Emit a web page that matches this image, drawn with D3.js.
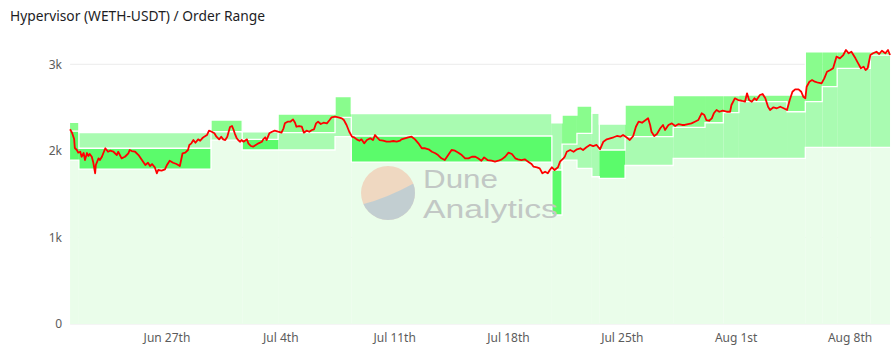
<!DOCTYPE html>
<html><head><meta charset="utf-8">
<script src="https://cdn.jsdelivr.net/npm/d3@7"></script>
<style>body{margin:0;background:#fff}svg{display:block}</style>
</head><body><svg id="c" width="893" height="358"></svg>
<script>
// ---------- DATA ----------
const chartTitle = "Hypervisor (WETH-USDT) / Order Range";
const startDate = "2021-06-21T00:00:00Z"; // hour 0
const yTicks = [0, 1000, 2000, 3000];
const yTickLabels = ["0", "1k", "2k", "3k"];
const xTickDates = ["2021-06-27", "2021-07-04", "2021-07-11", "2021-07-18", "2021-07-25", "2021-08-01", "2021-08-08"];
const xTickLabels = ["Jun 27th", "Jul 4th", "Jul 11th", "Jul 18th", "Jul 25th", "Aug 1st", "Aug 8th"];

// order range segments (hours since start)
const bandStartHours = [1, 14, 209, 255, 308, 392, 416, 712, 727, 749, 771, 782, 820, 891, 938, 965, 988, 1059, 1086, 1111, 1133, 1182];
const bandEndHour = 1211;
const rangeFloor = [1894, 1790, 2125, 2010, 2010, 2164, 1871, 1259, 1894, 1798, 1701, 1683, 1831, 1914, 1914, 1914, 1914, 1914, 2041, 2041, 2041, 2041];
const rangeMid   = [2229, 2030, 2221, 2133, 2210, 2388, 2172, 1779, 2079, 2203, 2437, 2010, 2164, 2272, 2325, 2441, 2568, 2452, 2568, 2741, 2954, 3107];
const rangeTop   = [2330, 2210, 2356, 2221, 2426, 2626, 2430, 2325, 2414, 2518, 2437, 2310, 2530, 2637, 2637, 2637, 2645, 2645, 3145, 3145, 3145, 3145];
const lowerShade = ["bright","bright","light","bright","light","light","bright","bright","light","light","light","bright","light","light","light","light","light","light","light","light","light","light"];
const upperShade = ["mid","light","mid","light","mid","mid","light","light","mid","mid","light","light","mid","mid","mid","mid","mid","mid","mid","mid","mid","mid"];

// WETH price (hours since start, USDT)
const priceHours = [1,4,7,8,11,13,16,18,21,23,26,28,30,33,35,38,39,43,45,48,50,53,55,57,60,65,70,72,77,82,87,89,92,97,102,107,112,116,119,122,126,129,131,136,141,144,148,153,158,163,167,171,175,177,180,183,186,190,193,196,199,203,206,210,214,217,221,224,227,230,233,237,240,242,244,247,249,252,254,257,262,264,268,271,275,279,284,286,289,291,295,299,303,308,313,316,318,322,326,330,333,335,339,343,346,350,354,358,361,364,367,371,375,380,384,387,392,397,402,405,409,413,417,420,424,428,431,435,439,444,448,451,454,458,463,468,473,478,483,488,490,495,500,505,510,515,520,525,530,535,540,544,549,554,559,564,569,574,579,584,589,594,599,603,608,612,617,623,628,633,638,643,648,653,658,662,667,672,677,682,685,690,694,698,702,706,709,712,716,721,724,729,731,734,739,744,749,754,758,763,768,773,778,783,788,793,798,803,808,813,817,822,827,832,836,840,845,849,854,857,859,863,867,872,876,879,884,889,894,899,904,908,913,918,923,928,933,937,940,944,948,951,955,959,964,970,975,977,982,987,992,997,1000,1003,1007,1011,1014,1019,1023,1027,1031,1034,1039,1044,1049,1054,1059,1063,1067,1071,1076,1080,1083,1086,1088,1092,1096,1100,1105,1110,1114,1118,1123,1127,1132,1137,1142,1146,1150,1154,1157,1160,1164,1168,1172,1175,1178,1182,1186,1191,1195,1199,1204,1208,1211];
const priceValues = [2250,2206,2137,2033,2010,1979,1990,1932,1975,1894,1975,1941,1964,1932,1875,1741,1837,1914,1894,1932,1972,2030,2010,1990,2002,1990,1952,1990,1914,1932,1972,2010,1998,1990,1952,1894,1837,1863,1825,1848,1810,1741,1779,1771,1787,1837,1886,1863,1848,1825,1972,1979,2010,2068,2087,2125,2094,2133,2117,2145,2164,2183,2233,2221,2203,2164,2133,2164,2133,2125,2164,2276,2287,2249,2203,2145,2125,2106,2125,2106,2133,2087,2056,2048,2068,2087,2106,2133,2157,2125,2203,2221,2233,2221,2210,2261,2318,2337,2337,2364,2325,2279,2287,2279,2210,2233,2221,2241,2249,2318,2337,2310,2325,2318,2356,2388,2395,2388,2376,2356,2299,2221,2164,2157,2133,2117,2133,2087,2125,2145,2125,2183,2157,2125,2117,2106,2106,2114,2106,2117,2133,2145,2157,2164,2133,2087,2030,2030,2018,1990,1972,1952,1914,1894,1952,2010,2002,1979,1952,1914,1914,1932,1932,1914,1886,1925,1894,1886,1875,1886,1902,1932,1979,1964,1914,1902,1894,1902,1875,1848,1817,1810,1798,1741,1759,1741,1779,1810,1779,1810,1875,1914,1932,1990,2010,1990,2018,2030,2010,2041,2068,2056,2068,2018,2106,2133,2145,2157,2172,2164,2183,2157,2125,2172,2279,2337,2325,2348,2376,2299,2221,2172,2195,2261,2299,2241,2299,2318,2287,2310,2299,2299,2310,2318,2337,2356,2434,2414,2356,2348,2376,2434,2472,2452,2464,2452,2452,2530,2607,2587,2579,2568,2665,2587,2568,2607,2587,2645,2657,2607,2510,2472,2503,2492,2510,2492,2472,2587,2683,2711,2711,2683,2626,2607,2741,2799,2818,2799,2787,2780,2838,2914,2934,2954,3088,3069,3107,3165,3127,3145,3107,3069,3011,2954,2972,2934,2954,3107,3127,3145,3119,3157,3127,3165,3107];

// ---------- STYLE ----------
const shadeColor = {floor: "#eafdea", light: "#a9fbb1", mid: "#89fc8d", bright: "#5bfb6b"};

// ---------- CHART ----------
const svg = d3.select("#c");
const t0 = new Date(startDate).getTime();
const HOUR = 3600e3;
const toDate = h => new Date(t0 + h * HOUR);
const x = d3.scaleUtc().domain([toDate(0), toDate(1212)]).range([69.4, 890.7]);
const y = d3.scaleLinear().domain([0, 3000]).range([324, 64.3]);
const xh = h => x(toDate(h));

// title
svg.append("text").attr("x", 10).attr("y", 21)
  .attr("font-family", "'Noto Sans', 'Open Sans', sans-serif").attr("font-size", 15)
  .attr("fill", "#1d1d1f").attr("textLength", 255).attr("lengthAdjust", "spacingAndGlyphs")
  .text(chartTitle);

// gridlines
svg.append("g").selectAll("line").data(yTicks).join("line")
  .attr("x1", xh(1)).attr("x2", xh(bandEndHour))
  .attr("y1", d => y(d)).attr("y2", d => y(d))
  .attr("stroke", "#ebebeb").attr("stroke-width", 1);

// y labels
svg.append("g").selectAll("text").data(yTicks).join("text")
  .attr("x", 62).attr("y", d => y(d)).attr("dy", "0.35em")
  .attr("text-anchor", "end").attr("font-family", "'Noto Sans', sans-serif")
  .attr("font-size", 12).attr("fill", "#5c5c5c")
  .text((d, i) => yTickLabels[i]);

// x labels
svg.append("g").selectAll("text").data(xTickDates).join("text")
  .attr("x", d => x(new Date(d + "T00:00:00Z"))).attr("y", 342)
  .attr("text-anchor", "middle").attr("font-family", "'Noto Sans', sans-serif")
  .attr("font-size", 12).attr("fill", "#5c5c5c")
  .text((d, i) => xTickLabels[i]);

// range segments
const segs = bandStartHours.map((h, i) => ({
  h0: h, h1: i < bandStartHours.length - 1 ? bandStartHours[i + 1] : bandEndHour,
  floor: rangeFloor[i], mid: rangeMid[i], top: rangeTop[i],
  lo: lowerShade[i], up: upperShade[i]
}));
const gBands = svg.append("g");
segs.forEach(s => {
  const x0 = xh(s.h0), w = xh(s.h1) - xh(s.h0);
  gBands.append("rect").attr("x", x0).attr("width", w)
    .attr("y", y(s.floor)).attr("height", y(0) - y(s.floor)).attr("fill", shadeColor.floor);
  gBands.append("rect").attr("x", x0).attr("width", w)
    .attr("y", y(s.mid)).attr("height", y(s.floor) - y(s.mid)).attr("fill", shadeColor[s.lo]);
  if (s.top > s.mid)
    gBands.append("rect").attr("x", x0).attr("width", w)
      .attr("y", y(s.top)).attr("height", y(s.mid) - y(s.top)).attr("fill", shadeColor[s.up]);
});
// white edge lines (step)
const stepHours = bandStartHours.concat([bandEndHour]);
[rangeFloor, rangeMid, rangeTop].forEach(arr => {
  const pts = stepHours.map((h, i) => [h, arr[Math.min(i, arr.length - 1)]]);
  gBands.append("path").datum(pts)
    .attr("d", d3.line().x(d => xh(d[0])).y(d => y(d[1])).curve(d3.curveStepAfter))
    .attr("fill", "none").attr("stroke", "#ffffff").attr("stroke-width", 1.3);
});

// watermark
const wm = svg.append("g");
const cx = 388, cy = 193, r = 27;
wm.append("clipPath").attr("id", "wmclip").append("circle").attr("cx", cx).attr("cy", cy).attr("r", r);
wm.append("circle").attr("cx", cx).attr("cy", cy).attr("r", r).attr("fill", "#efd4bd").attr("opacity", 0.9);
wm.append("path").attr("clip-path", "url(#wmclip)")
  .attr("d", `M${cx - 32},${cy + 13} Q${cx - 3},${cy + 7} ${cx + 32},${cy - 13} L${cx + 32},${cy + 32} L${cx - 32},${cy + 32} Z`)
  .attr("fill", "#bccdd3").attr("opacity", 0.9);
const wmFont = "'Liberation Sans', Arial, sans-serif";
wm.append("text").attr("x", 423).attr("y", 188).attr("font-family", wmFont)
  .attr("font-size", 26).attr("fill", "#c2c8c5")
  .attr("textLength", 75).attr("lengthAdjust", "spacingAndGlyphs").text("Dune");
wm.append("text").attr("x", 423).attr("y", 218).attr("font-family", wmFont)
  .attr("font-size", 26).attr("fill", "#c2c8c5")
  .attr("textLength", 135).attr("lengthAdjust", "spacingAndGlyphs").text("Analytics");

// price line
svg.append("path").datum(priceHours.map((h, i) => [h, priceValues[i]]))
  .attr("d", d3.line().x(d => xh(d[0])).y(d => y(d[1])))
  .attr("fill", "none").attr("stroke", "#ff0000").attr("stroke-width", 1.8).attr("stroke-linejoin", "round");
</script></body></html>
